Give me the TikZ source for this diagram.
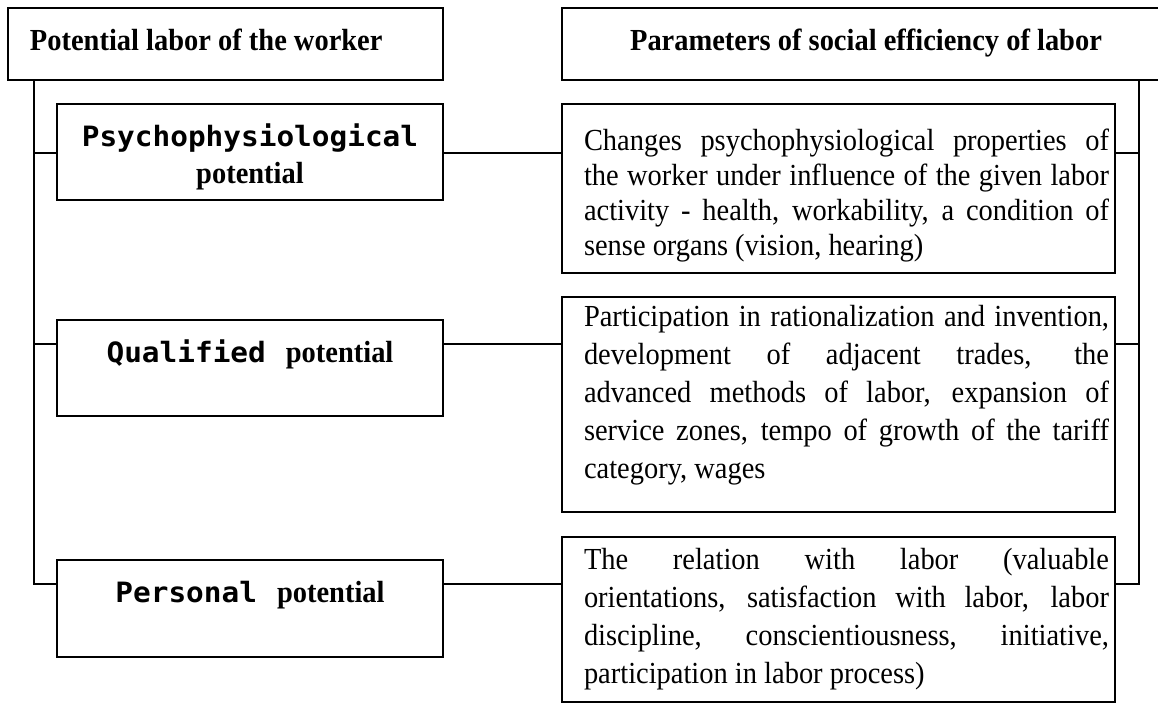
\documentclass[tikz,border=0pt]{standalone}
\usepackage{fontspec}
\setmainfont{Liberation Serif}[FakeStretch=0.93]
\newfontfamily\monob{DejaVu Sans Mono}[FakeStretch=1.05]
\newcommand\jl[1]{\makebox[\linewidth][s]{#1}\par}
\newcommand\descfonta{\fontsize{15.3}{17.5}\selectfont}
\newcommand\descfontb{\fontsize{15.3}{19}\selectfont}
\newcommand\headfont{\fontsize{15.3}{18.5}\selectfont\bfseries}
\newcommand\monofont{\monob\bfseries\fontsize{14}{18.5}\selectfont}
\tikzset{
  box/.style={draw, line width=0.8pt, anchor=north west, inner sep=0pt, outer sep=0pt},
  conn/.style={line width=0.8pt}
}
\begin{document}
\begin{tikzpicture}[x=0.5pt, y=-0.5pt]
\useasboundingbox (0,0) rectangle (1158,704);
\clip (0,0) rectangle (1158,704);
\fill[white] (0,0) rectangle (1158,704);

% title boxes
\node[box] (tl) at (8,8) {\parbox[t][36pt][t]{217.5pt}{\vspace*{9.5pt}\hspace*{11pt}\headfont\rule{0pt}{12pt}Potential labor of the worker}};
\node[box] (tr) at (562,8) {\parbox[t][36pt][t]{304pt}{\vspace*{9.5pt}\centering\headfont\rule{0pt}{12pt}Parameters of social efficiency of labor\par}};

% left boxes
\node[box] (p1) at (57,104) {\parbox[t][48pt][t]{193pt}{\vspace*{9.5pt}\centering\headfont\rule{0pt}{12pt}{\monofont Psychophysiological}\\potential\par}};
\node[box] (p2) at (57,320) {\parbox[t][48pt][t]{193pt}{\vspace*{9.5pt}\centering\headfont\rule{0pt}{12pt}{\monofont Qualified}\hspace{10pt}potential\par}};
\node[box] (p3) at (57,560) {\parbox[t][48.5pt][t]{193pt}{\vspace*{9.5pt}\centering\headfont\rule{0pt}{12pt}{\monofont Personal}\hspace{10pt}potential\par}};

% description boxes
\node[box] (d1) at (562,104) {\parbox[t][84.5pt][t]{276.5pt}{\vspace*{11.5pt}\hspace*{11pt}\parbox[t]{262.5pt}{\descfonta
\jl{\rule{0pt}{12pt}Changes psychophysiological properties of}
\jl{the worker under influence of the given labor}
\jl{activity - health, workability, a condition of}
sense organs (vision, hearing)\par}}};

\node[box] (d2) at (562,297) {\parbox[t][107.5pt][t]{276.5pt}{\vspace*{3pt}\hspace*{11pt}\parbox[t]{262.5pt}{\descfontb
\jl{\rule{0pt}{12pt}Participation in rationalization and invention,}
\jl{development of adjacent trades, the}
\jl{advanced methods of labor, expansion of}
\jl{service zones, tempo of growth of the tariff}
category, wages\par}}};

\node[box] (d3) at (562,537) {\parbox[t][82.5pt][t]{276.5pt}{\vspace*{4.5pt}\hspace*{11pt}\parbox[t]{262.5pt}{\descfontb
\jl{\rule{0pt}{12pt}The relation with labor (valuable}
\jl{orientations, satisfaction with labor, labor}
\jl{discipline, conscientiousness, initiative,}
participation in labor process)\par}}};

% spines and rows
\coordinate (ls) at (34,0);
\coordinate (rs) at (1139,0);
\coordinate (r1) at (0,153);
\coordinate (r2) at (0,344);
\coordinate (r3) at (0,584);

\draw[conn] (ls |- tl.south) -- (ls |- r3) -- (p3.west |- r3);
\draw[conn] (ls |- r1) -- (p1.west |- r1);
\draw[conn] (ls |- r2) -- (p2.west |- r2);

\draw[conn] (p1.east |- r1) -- (d1.west |- r1);
\draw[conn] (p2.east |- r2) -- (d2.west |- r2);
\draw[conn] (p3.east |- r3) -- (d3.west |- r3);

\draw[conn] (rs |- tr.south) -- (rs |- r3) -- (d3.east |- r3);
\draw[conn] (d1.east |- r1) -- (rs |- r1);
\draw[conn] (d2.east |- r2) -- (rs |- r2);
\end{tikzpicture}
\end{document}
